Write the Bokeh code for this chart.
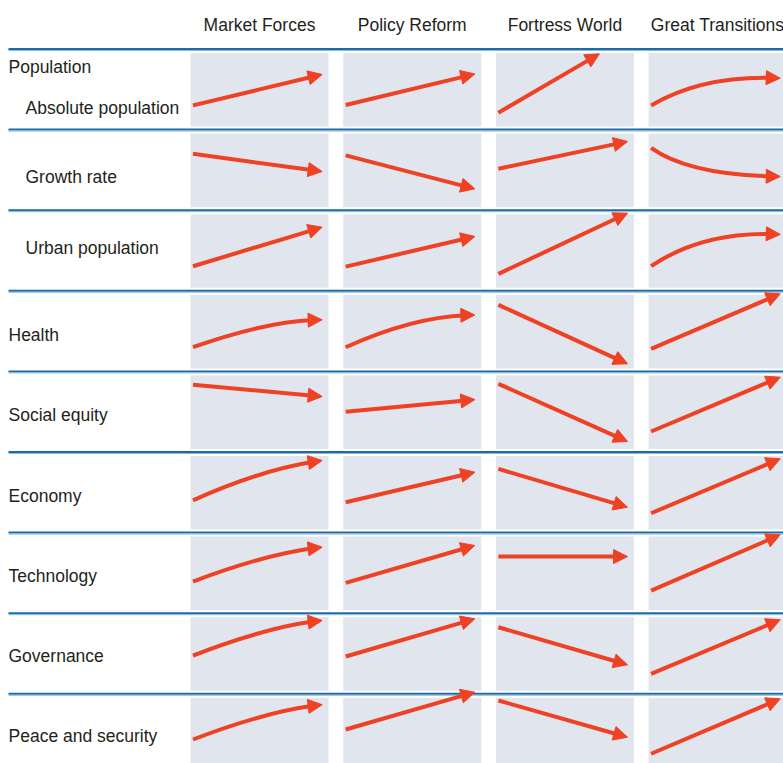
import math
from bokeh.plotting import figure
from bokeh.models import Range1d, ColumnDataSource, Arrow, NormalHead
from bokeh.core.properties import value
from bokeh.embed import file_html
from bokeh.resources import INLINE

# ---------------- data ----------------
scenarios = ["Market Forces", "Policy Reform", "Fortress World", "Great Transitions"]
group_label = "Population"
rows = ["Absolute population", "Growth rate", "Urban population", "Health",
        "Social equity", "Economy", "Technology", "Governance", "Peace and security"]
indented = [True, True, True, False, False, False, False, False, False]

# trend levels inside each row band (0 = bottom of band, 1 = top of band)
mf_start = [0.30, 0.70, 0.305, 0.30, 0.834, 0.40, 0.393, 0.475, 0.433]
mf_end   = [0.684, 0.48, 0.789, 0.64, 0.689, 0.895, 0.819, 0.91, 0.864]
pr_start = [0.305, 0.68, 0.30, 0.30, 0.50, 0.377, 0.377, 0.463, 0.557]
pr_end   = [0.69, 0.265, 0.674, 0.70, 0.65, 0.75, 0.84, 0.93, 1.02]
fw_start = [0.21, 0.514, 0.21, 0.826, 0.846, 0.79, 0.703, 0.826, 0.917]
fw_end   = [0.94, 0.852, 0.963, 0.094, 0.13, 0.315, 0.703, 0.36, 0.462]
gt_start = [0.30, 0.774, 0.305, 0.28, 0.254, 0.24, 0.28, 0.248, 0.256]
gt_end   = [0.638, 0.418, 0.70, 0.963, 0.928, 0.916, 0.973, 0.918, 0.938]

# curvature (control point as fraction of the run / rise), None = straight
mf_curve = [None, None, None, (0.6, 1.0), None, (0.55, 0.8), (0.6, 0.85), (0.6, 0.85), (0.6, 0.85)]
pr_curve = [None, None, None, (0.55, 1.0), None, None, None, None, None]
fw_curve = [None] * 9
gt_curve = [(0.41, 1.14), (0.30, 0.965), (0.41, 1.13), None, None, None, None, None, None]

# horizontal extent of each arrow inside its cell (fraction of cell width)
x_start_frac = 0.018
default_end_frac = 0.954
fw_end_frac = [0.75, 0.954, 0.954, 0.954, 0.954, 0.954, 0.954, 0.954, 0.954]

starts = [mf_start, pr_start, fw_start, gt_start]
ends = [mf_end, pr_end, fw_end, gt_end]
curves = [mf_curve, pr_curve, fw_curve, gt_curve]
end_fracs = [[default_end_frac] * 9, [default_end_frac] * 9, fw_end_frac, [default_end_frac] * 9]

# ---------------- layout ----------------
RED = "#ef4123"
CELL = "#e1e6ee"
RULE = "#1c6aa6"
RULE_LIGHT = "#8fb9db"
TEXT = "#231f20"
FONT = "'Liberation Sans', Arimo, Arial, sans-serif"
FS = "17.5px"

W, H = 783, 763
FIRST_RULE = 48.5
PITCH = 80.6
COL0 = 190.0
COL_STEP = 152.7
COL_W = 138.0

p = figure(width=W, height=H, x_range=Range1d(0, W), y_range=Range1d(H, 0),
           output_backend="svg", toolbar_location=None, min_border=0,
           x_axis_type=None, y_axis_type=None, title=None)
p.grid.visible = False
p.outline_line_color = None
p.background_fill_color = "white"
p.border_fill_color = "white"

n = len(rows)
rule_y = [FIRST_RULE + PITCH * i for i in range(n)]

# cells
left, right, top, bottom = [], [], [], []
for r in range(n):
    for c in range(len(scenarios)):
        L = COL0 + COL_STEP * c
        left.append(L)
        right.append(L + COL_W)
        top.append(rule_y[r] + 4)
        bottom.append(rule_y[r] + PITCH - 3)
p.quad(left=left, right=right, top=top, bottom=bottom, fill_color=CELL, line_color=None)

# rules
p.segment(x0=[8] * n, x1=[W] * n, y0=rule_y, y1=rule_y, line_color=RULE, line_width=2)
p.segment(x0=[8] * n, x1=[W] * n, y0=[y + 1.5 for y in rule_y], y1=[y + 1.5 for y in rule_y],
          line_color=RULE_LIGHT, line_width=1)

# header text
p.text(x=[COL0 + COL_STEP * c + COL_W / 2 for c in range(len(scenarios))], y=[24.5] * len(scenarios),
       text=scenarios, text_font=value(FONT), text_font_size=FS, text_color=TEXT,
       text_align="center", text_baseline="middle")

# row labels (vertical offset of label centre below the row's top rule)
label_off = [59.3, 47.3, 38.1, 44.2, 43.6, 43.5, 42.9, 42.3, 42.2]
lx, ly, lt = [8], [66.8], [group_label]
for r, name in enumerate(rows):
    lx.append(25 if indented[r] else 8)
    ly.append(rule_y[r] + label_off[r])
    lt.append(name)
p.text(x=lx, y=ly, text=lt, text_font=value(FONT), text_font_size=FS, text_color=TEXT,
       text_align="left", text_baseline="middle")

# arrows
qx0, qy0, qx1, qy1, qcx, qcy = [], [], [], [], [], []
hxs, hys, hxe, hye = [], [], [], []
for c in range(len(scenarios)):
    L = COL0 + COL_STEP * c
    for r in range(n):
        base = rule_y[r] + PITCH
        x0 = L + x_start_frac * COL_W
        x2 = L + end_fracs[c][r] * COL_W
        y0 = base - starts[c][r] * PITCH
        y2 = base - ends[c][r] * PITCH
        cv = curves[c][r]
        if cv is None:
            x1, y1 = (x0 + x2) / 2, (y0 + y2) / 2
        else:
            x1 = x0 + cv[0] * (x2 - x0)
            y1 = y0 + cv[1] * (y2 - y0)
        d = 2 * math.hypot(x2 - x1, y2 - y1)
        t = 1 - 9.0 / d
        bx = (1 - t) ** 2 * x0 + 2 * t * (1 - t) * x1 + t * t * x2
        by = (1 - t) ** 2 * y0 + 2 * t * (1 - t) * y1 + t * t * y2
        ncx = x0 + t * (x1 - x0)
        ncy = y0 + t * (y1 - y0)
        qx0.append(x0); qy0.append(y0); qx1.append(bx); qy1.append(by)
        qcx.append(ncx); qcy.append(ncy)
        hxs.append(bx); hys.append(by); hxe.append(x2); hye.append(y2)

p.quadratic(x0=qx0, y0=qy0, x1=qx1, y1=qy1, cx=qcx, cy=qcy, line_color=RED, line_width=4)

head_src = ColumnDataSource(dict(xs=hxs, ys=hys, xe=hxe, ye=hye))
p.add_layout(Arrow(end=NormalHead(size=14, fill_color=RED, line_color=RED, line_width=1),
                   x_start="xs", y_start="ys", x_end="xe", y_end="ye", source=head_src,
                   line_color=RED, line_width=4))

open("out.html", "w").write(file_html(p, INLINE))
